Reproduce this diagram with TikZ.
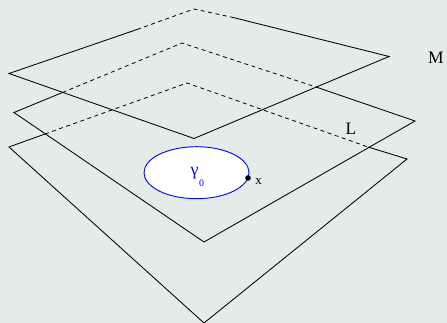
\documentclass[tikz,border=0pt]{standalone}
\usepackage{fontspec}
\setmainfont{Liberation Serif}
\definecolor{bgc}{HTML}{E4ECE9}
\definecolor{curveblue}{HTML}{0A0AF0}
\tikzset{
  solidedge/.style={draw=black,line width=0.85pt,line join=miter},
  dashedge/.style={draw=black,line width=0.8pt,dash pattern=on 4pt off 3.5pt},
  bigl/.style={inner sep=0pt,font=\fontsize{17.5}{18}\selectfont},
  smalll/.style={inner sep=0pt,font=\fontsize{13}{14}\selectfont},
}
\begin{document}
\begin{tikzpicture}[x=1pt,y=-1pt]
\path[fill=bgc] (0,0) rectangle (447,323);
\useasboundingbox (0,0) rectangle (447,323);
% top plane
\coordinate (ml) at (9,73.5); \coordinate (mt) at (194,9); \coordinate (mr) at (389,56.5); \coordinate (mb) at (194,138.5);
\coordinate (ms1) at (137,29.5); \coordinate (ms2) at (233,17.5);
\draw[solidedge] (ms1) -- (ml) -- (mb) -- (mr) -- (ms2);
\draw[dashedge] (ms1) -- (mt) -- (ms2);
% middle plane
\coordinate (ll) at (14,112.5); \coordinate (lt) at (182,43); \coordinate (lr) at (415,121); \coordinate (lb) at (204,242);
\coordinate (ls1) at (62.5,92.5); \coordinate (ls2) at (316,87);
\draw[solidedge] (ls1) -- (ll) -- (lb) -- (lr) -- (ls2);
\draw[dashedge] (ls1) -- (lt) -- (ls2);
% bottom plane
\coordinate (bl) at (9,147); \coordinate (bt) at (187,83); \coordinate (br) at (407,159); \coordinate (bb) at (204,323);
\coordinate (bs1) at (45,134); \coordinate (bs2) at (368,147);
\draw[solidedge] (bs1) -- (bl) -- (bb) -- (br) -- (bs2);
\draw[dashedge] (bs1) -- (bt) -- (bs2);
% curve
\draw[curveblue,fill=white,line width=0.95pt] (196.5,172.7) ellipse [x radius=52.5,y radius=26];
\fill[black] (248,178) circle [radius=2.8];
\node[bigl] (labelM) at (436,58) {M};
\node[bigl] (labelL) at (351,129) {L};
\node[smalll] (labelx) at (258.5,182) {x};
\node[inner sep=0pt,text=curveblue,font=\fontsize{18}{19}\selectfont] (labelg) at (194.5,173) {γ};
\node[inner sep=0pt,text=curveblue,font=\fontsize{10}{11}\selectfont] (labelz) at (201.5,183) {0};
\end{tikzpicture}
\end{document}
